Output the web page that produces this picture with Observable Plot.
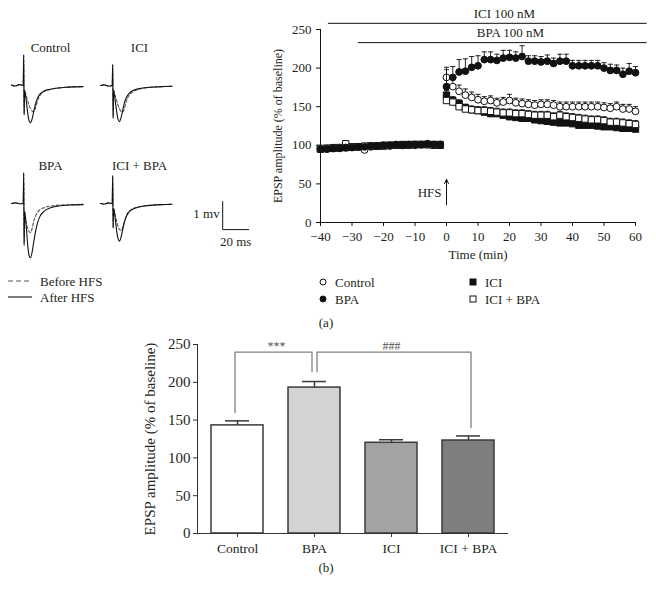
<!DOCTYPE html>
<html><head><meta charset="utf-8">
<script src="https://cdn.jsdelivr.net/npm/d3@7"></script>
<script src="https://cdn.jsdelivr.net/npm/@observablehq/plot@0.6"></script>
<style>
body{margin:0;background:#fff;}
#root{position:relative;width:656px;height:600px;font-family:"Liberation Serif",serif;color:#231f20;overflow:hidden;background:#fff}
</style></head><body><div id="root"></div>
<script>
// ---------- DATA: example traces (ms, mV relative to baseline) ----------
const traceNames = ["Control", "ICI", "BPA", "ICI + BPA"];
const traceTime = [0,3,6,9,9.4,9.7,10.1,10.6,11.5,12.5,13.5,14.6,15.8,17,18.5,20,22,25,29,34,40,47,55];
const controlBefore = [0.02,-0.02,0.03,0,1.05,-1.0,-0.15,-0.25,-0.4,-0.55,-0.7,-0.82,-0.9,-0.93,-0.8,-0.55,-0.35,-0.22,-0.15,-0.1,-0.07,-0.05,-0.04];
const controlAfter  = [0.02,-0.02,0.03,0,1.1,-1.05,-0.2,-0.3,-0.6,-1.0,-1.25,-1.33,-1.2,-0.95,-0.65,-0.45,-0.3,-0.2,-0.14,-0.1,-0.07,-0.05,-0.04];
const iciBefore     = [0,0.02,-0.02,0,0.72,-1.1,-0.15,-0.25,-0.4,-0.55,-0.7,-0.83,-0.92,-0.95,-0.8,-0.55,-0.35,-0.22,-0.14,-0.09,-0.06,-0.04,-0.03];
const iciAfter      = [0,0.02,-0.02,0,0.75,-1.18,-0.2,-0.3,-0.6,-0.95,-1.2,-1.29,-1.15,-0.9,-0.6,-0.42,-0.28,-0.18,-0.12,-0.08,-0.06,-0.04,-0.03];
const bpaBefore     = [0,0.02,-0.01,0,1.05,-1.4,-0.3,-0.45,-0.7,-0.9,-1.0,-1.03,-0.9,-0.65,-0.45,-0.32,-0.22,-0.15,-0.1,-0.07,-0.05,-0.04,-0.03];
const bpaAfter      = [0,0.02,-0.01,0,1.1,-1.5,-0.3,-0.45,-0.9,-1.5,-1.85,-1.93,-1.75,-1.4,-1.0,-0.7,-0.45,-0.28,-0.17,-0.11,-0.07,-0.05,-0.04];
const iciBpaBefore  = [0,-0.02,0.02,0,0.95,-0.85,-0.15,-0.25,-0.45,-0.65,-0.82,-0.93,-0.96,-0.85,-0.62,-0.42,-0.28,-0.18,-0.12,-0.08,-0.06,-0.04,-0.03];
const iciBpaAfter   = [0,-0.02,0.02,0,1.0,-0.88,-0.2,-0.3,-0.6,-1.0,-1.25,-1.34,-1.2,-0.95,-0.65,-0.45,-0.3,-0.2,-0.13,-0.09,-0.06,-0.04,-0.03];
const scaleBarMs = 20, scaleBarMv = 1;

// ---------- DATA: time course (% of baseline) ----------
const timeMin = [-40,-38,-36,-34,-32,-30,-28,-26,-24,-22,-20,-18,-16,-14,-12,-10,-8,-6,-4,-2,0,2,4,6,8,10,12,14,16,18,20,22,24,26,28,30,32,34,36,38,40,42,44,46,48,50,52,54,56,58,60];
const controlMean = [95,96,96,97,97,98,98,94,98,99,99,99,100,100,100,100,101,101,101,101,188,176,170,165,162,159,157,158,155,156,158,155,154,153,152,153,153,152,150,150,150,150,150,150,150,149,148,150,147,147,144];
const bpaMean     = [95,95,96,96,97,97,98,98,99,99,100,100,101,100,101,101,101,102,101,101,176,188,195,196,201,203,211,211,210,213,214,213,215,209,209,208,209,206,209,209,203,203,203,203,203,200,197,197,192,196,194];
const iciMean     = [95,96,96,97,97,98,98,98,99,99,99,100,100,101,100,101,101,101,101,100,165,158,154,149,146,145,143,141,141,139,137,136,135,135,133,132,131,130,129,129,128,126,126,126,125,124,124,123,122,122,121];
const iciBpaMean  = [96,96,97,97,102,98,98,99,99,99,100,100,100,100,101,101,101,101,100,101,158,156,150,147,146,145,145,144,143,142,142,141,141,140,139,139,139,137,139,137,136,135,134,133,133,132,130,130,129,128,127];
const controlSem = [2,2,2,2,2,2,2,2,2,2,2,2,2,2,2,2,2,2,2,2,10,9,8,8,7,7,6,6,6,6,8,6,6,6,6,6,6,6,6,6,6,6,6,6,6,6,6,6,6,6,6];
const bpaSem     = [2,2,2,2,2,2,2,2,2,2,2,2,2,2,2,2,2,2,2,2,25,14,16,16,14,13,10,10,8,10,9,8,14,7,7,7,8,7,9,9,7,7,7,7,7,7,8,7,8,10,8];
const iciSem     = [2,2,2,2,2,2,2,2,2,2,2,2,2,2,2,2,2,2,2,2,6,5,5,4,4,4,4,4,4,4,4,4,4,4,4,4,4,4,4,4,4,4,4,4,4,4,4,4,4,4,4];
const iciBpaSem  = [2,2,2,2,2,2,2,2,2,2,2,2,2,2,2,2,2,2,2,2,6,6,5,5,5,5,5,5,5,5,5,5,5,5,5,5,5,5,5,5,5,5,5,5,5,5,5,5,5,5,5];
const treatmentLabels = ["ICI 100 nM", "BPA 100 nM"];
const treatmentStart = [-37.5, -28];
const treatmentEnd = [63.7, 63.7];
const hfsTime = 0;
const tcXTicks = [-40,-30,-20,-10,0,10,20,30,40,50,60];
const tcYTicks = [0,50,100,150,200,250];

// ---------- DATA: bar chart ----------
const barGroups = ["Control", "BPA", "ICI", "ICI + BPA"];
const barMeans = [143, 193, 120, 123];
const barSems = [6, 8, 4, 6];
const barYTicks = [0,50,100,150,200,250];

// ---------- styles ----------
const FONT = "'Liberation Serif', 'Times New Roman', serif";
const INK = "#231f20";
const barColors = {"Control": "#ffffff", "BPA": "#d3d3d3", "ICI": "#a3a3a3", "ICI + BPA": "#7e7e7e"};
const baseStyle = {fontFamily: FONT, fontSize: "13px", color: INK, background: "transparent", overflow: "visible"};

const root = document.getElementById("root");
function put(el, left, top) {
  el.style.position = "absolute"; el.style.left = left + "px"; el.style.top = top + "px";
  el.style.maxWidth = "none";
  root.appendChild(el);
}
function label(text, x, y, anchor = "middle", size = 13) {
  const d = document.createElement("div");
  d.textContent = text;
  const tx = anchor === "middle" ? "-50%" : anchor === "end" ? "-100%" : "0";
  d.style.cssText = `position:absolute;left:${x}px;top:${y}px;font-size:${size}px;line-height:1;white-space:nowrap;transform:translate(${tx},-50%);color:${INK}`;
  root.appendChild(d);
}

// ---------- panel (a) left: traces ----------
const traceCol = {"Control": 0, "ICI": 1, "BPA": 0, "ICI + BPA": 1};
const traceRow = {"Control": 0, "ICI": 0, "BPA": 1, "ICI + BPA": 1};
const traceVals = {
  "Control": {before: controlBefore, after: controlAfter},
  "ICI": {before: iciBefore, after: iciAfter},
  "BPA": {before: bpaBefore, after: bpaAfter},
  "ICI + BPA": {before: iciBpaBefore, after: iciBpaAfter}
};
const traceRows = [];
for (const name of traceNames) for (const state of ["before", "after"])
  traceTime.forEach((t, i) => traceRows.push({name, state, t, v: traceVals[name][state][i]}));
const sbX0 = 94, sbY0 = 0.07;
const scaleBar = [
  {t: sbX0, v: sbY0}, {t: sbX0, v: sbY0 - scaleBarMv}, {t: sbX0 + scaleBarMs, v: sbY0 - scaleBarMv}
];
const tracePlot = Plot.plot({
  width: 260, height: 262, marginLeft: 11, marginRight: 82, marginTop: 40, marginBottom: 0,
  style: baseStyle,
  fx: {domain: [0, 1], paddingInner: 0.1236, paddingOuter: 0, axis: null},
  fy: {domain: [0, 1], paddingInner: 0.122, paddingOuter: 0, axis: null},
  x: {domain: [0, 60], axis: null},
  y: {domain: [-2.1, 1.6], axis: null},
  marks: [
    Plot.line(traceRows.filter(d => d.state === "before"), {
      x: "t", y: "v", z: "name", fx: d => traceCol[d.name], fy: d => traceRow[d.name],
      stroke: "#555", strokeWidth: 1.1, strokeDasharray: "3,2", curve: "monotone-x"
    }),
    Plot.line(traceRows.filter(d => d.state === "after"), {
      x: "t", y: "v", z: "name", fx: d => traceCol[d.name], fy: d => traceRow[d.name],
      stroke: "#111", strokeWidth: 1.1, curve: "monotone-x"
    }),
    Plot.text(traceNames, {fx: d => traceCol[d], fy: d => traceRow[d], frameAnchor: "top", dy: 2, fill: INK}),
    Plot.line(scaleBar, {x: "t", y: "v", fx: () => 1, fy: () => 1, stroke: "#111", strokeWidth: 1}),
    Plot.text(["1 mv"], {x: sbX0, y: sbY0 - scaleBarMv / 2 + 0.06, fx: () => 1, fy: () => 1, dx: -3, textAnchor: "end", fill: INK}),
    Plot.text(["20 ms"], {x: sbX0 + scaleBarMs / 2, y: sbY0 - scaleBarMv - 0.42, fx: () => 1, fy: () => 1, fill: INK})
  ]
});
put(tracePlot, 0, 0);

// ---------- panel (a) right: time course ----------
const cap = {draw(ctx) { ctx.moveTo(-2.6, 0); ctx.lineTo(2.6, 0); }};
const seriesDefs = [
  {name: "ICI", mean: iciMean, sem: iciSem, symbol: "square", fill: "#111"},
  {name: "ICI + BPA", mean: iciBpaMean, sem: iciBpaSem, symbol: "square", fill: "#fff"},
  {name: "Control", mean: controlMean, sem: controlSem, symbol: "circle", fill: "#fff"},
  {name: "BPA", mean: bpaMean, sem: bpaSem, symbol: "circle", fill: "#111"}
];
const tcMarks = [];
for (const s of seriesDefs) {
  const rows = timeMin.map((t, i) => ({t, y: s.mean[i], top: s.mean[i] + s.sem[i]}));
  tcMarks.push(Plot.ruleX(rows, {x: "t", y1: "y", y2: "top", stroke: "#111", strokeWidth: 0.9}));
  tcMarks.push(Plot.dot(rows, {x: "t", y: "top", symbol: cap, r: 3, fill: "none", stroke: "#111", strokeWidth: 0.9}));
  tcMarks.push(Plot.dot(rows, {x: "t", y: "y", symbol: s.symbol, r: s.symbol === "square" ? 3.6 : 3.4, fill: s.fill, stroke: "#111", strokeWidth: 1}));
}
const treatLevel = [258, 233];
const treatLabelPos = [[18.4, 270.5], [20.3, 246]];
const treatRows = treatmentLabels.map((l, i) => ({
  label: l, start: treatmentStart[i], end: treatmentEnd[i], level: treatLevel[i],
  lx: treatLabelPos[i][0], ly: treatLabelPos[i][1]
}));
const tcPlot = Plot.plot({
  width: 426, height: 270, marginLeft: 90, marginRight: 21, marginTop: 29, marginBottom: 48,
  style: baseStyle,
  x: {domain: [-40, 60], label: null},
  y: {domain: [0, 250], label: null},
  marks: [
    Plot.ruleX([-40], {stroke: "#111"}),
    Plot.ruleY([0], {stroke: "#111"}),
    Plot.axisX(tcXTicks, {tickSize: 4, tickPadding: 5, label: null, stroke: "#111"}),
    Plot.axisY(tcYTicks, {tickSize: 4, tickPadding: 5, label: null, stroke: "#111"}),
    Plot.ruleY(treatRows, {y: "level", x1: "start", x2: "end", stroke: "#111", strokeWidth: 1}),
    Plot.text(treatRows, {x: "lx", y: "ly", text: "label", fill: INK}),
    ...tcMarks,
    Plot.arrow([{x: hfsTime}], {x1: "x", x2: "x", y1: 23, y2: 56, stroke: "#111", strokeWidth: 1, headLength: 7, headAngle: 50}),
    Plot.text(["HFS"], {x: hfsTime, y: 38, dx: -5, textAnchor: "end", fill: INK}),
    Plot.text(["EPSP amplitude (% of baseline)"], {frameAnchor: "left", textAnchor: "middle", dx: -42.5, rotate: -90, fontSize: 12, fill: INK}),
    Plot.text(["Time (min)"], {frameAnchor: "bottom", dy: 36, fill: INK})
  ]
});
put(tcPlot, 230, 0);

// ---------- panel (b): bar chart ----------
const barRows = barGroups.map((g, i) => ({group: g, mean: barMeans[i], top: barMeans[i] + barSems[i]}));
const bracket1 = [{x: "Control", y: 160}, {x: "Control", y: 240}, {x: "BPA", y: 240}, {x: "BPA", y: 214}];
const bracket2 = [{x: "BPA", y: 214}, {x: "BPA", y: 240}, {x: "ICI + BPA", y: 240}, {x: "ICI + BPA", y: 140}];
const sigRows = [{x: "Control", y: 248, label: "***"}, {x: "ICI", y: 248, label: "###"}];
const barPlot = Plot.plot({
  width: 380, height: 250, marginLeft: 57, marginRight: 12, marginTop: 14, marginBottom: 47,
  style: baseStyle,
  x: {domain: barGroups, paddingInner: 0.33, paddingOuter: 0.165, label: null},
  y: {domain: [0, 250], label: null},
  marks: [
    Plot.barY(barRows, {x: "group", y: "mean", fill: d => barColors[d.group], stroke: "#3a3a3a", strokeWidth: 1.5}),
    Plot.ruleX(barRows, {x: "group", y1: "mean", y2: "top", stroke: "#3a3a3a", strokeWidth: 1.5}),
    Plot.tickY(barRows, {x: "group", y: "top", insetLeft: 14, insetRight: 14, stroke: "#3a3a3a", strokeWidth: 1.5}),
    Plot.line(bracket1, {x: "x", y: "y", dx: -2.5, stroke: "#808080", strokeWidth: 1.3}),
    Plot.line(bracket2, {x: "x", y: "y", dx: 2.5, stroke: "#808080", strokeWidth: 1.3}),
    Plot.text(sigRows.slice(0, 1), {x: "x", y: "y", text: "label", dx: 38.9, fontSize: 12, fill: "#555"}),
    Plot.text(sigRows.slice(1), {x: "x", y: "y", text: "label", dx: 0, fontSize: 12, fill: "#555"}),
    Plot.ruleY([0], {stroke: "#333"}),
    Plot.frame({anchor: "left", stroke: "#333"}),
    Plot.axisY(barYTicks, {tickSize: 4, tickPadding: 3, fontSize: 15, label: null, stroke: "#333"}),
    Plot.axisX({tickSize: 4, tickPadding: 6, fontSize: 13.5, label: null, stroke: "#333"}),
    Plot.text(["EPSP amplitude (% of baseline)"], {frameAnchor: "left", textAnchor: "middle", dx: -47, rotate: -90, fontSize: 15, fill: INK})
  ]
});
put(barPlot, 140, 330);

// ---------- legends & panel labels ----------
const ns = "http://www.w3.org/2000/svg";
const overlay = document.createElementNS(ns, "svg");
overlay.setAttribute("width", 656); overlay.setAttribute("height", 600);
overlay.style.cssText = "position:absolute;left:0;top:0;pointer-events:none";
overlay.innerHTML = `
  <line x1="8" x2="32" y1="281" y2="281" stroke="#555" stroke-width="1.1" stroke-dasharray="5,3"/>
  <line x1="8" x2="32" y1="297" y2="297" stroke="#111" stroke-width="1.1"/>
  <circle cx="323" cy="282" r="3" fill="#fff" stroke="#111" stroke-width="1"/>
  <circle cx="323" cy="299" r="3" fill="#111" stroke="#111" stroke-width="1"/>
  <rect x="470" y="279" width="6" height="6" fill="#111" stroke="#111" stroke-width="1"/>
  <rect x="470" y="296" width="6" height="6" fill="#fff" stroke="#111" stroke-width="1"/>`;
root.appendChild(overlay);
label("Before HFS", 40, 281, "start");
label("After HFS", 40, 297, "start");
label("Control", 335, 282, "start");
label("BPA", 335, 299, "start");
label("ICI", 485, 282, "start");
label("ICI + BPA", 485, 299, "start");
label("(a)", 326, 322);
label("(b)", 326, 567);
</script>
</body></html>
